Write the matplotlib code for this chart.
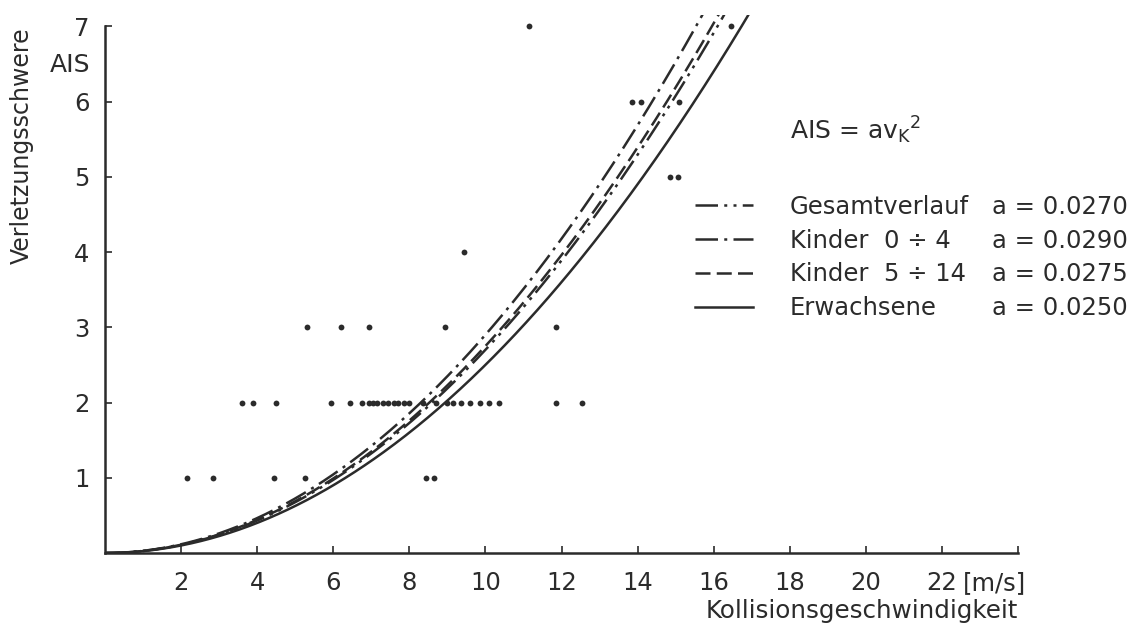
"""AIS injury severity vs. collision speed with quadratic fits."""

import numpy as np
import matplotlib

matplotlib.use("Agg")
import matplotlib.pyplot as plt
from matplotlib.lines import Line2D
from matplotlib.transforms import offset_copy

INK = "#2b2b2b"

# observed cases: collision speed [m/s] per AIS level
ais_levels = [1, 2, 3, 4, 5, 6, 7]
speeds_by_level = [
    [2.15, 2.85, 4.45, 5.25, 8.45, 8.65],
    [3.6, 3.9, 4.5, 5.95, 6.45, 6.75, 6.95, 7.05, 7.15, 7.3, 7.45, 7.6,
     7.7, 7.85, 8.0, 8.35, 8.7, 9.0, 9.15, 9.35, 9.6, 9.85, 10.1, 10.35,
     11.85, 12.55],
    [5.3, 6.2, 6.95, 8.95, 11.85],
    [9.45],
    [14.85, 15.05],
    [13.85, 14.1, 15.1],
    [11.15, 16.45],
]

# fitted curves AIS = a * v_K^2
fit_names = ["Gesamtverlauf", "Kinder  0 \u00f7 4", "Kinder  5 \u00f7 14", "Erwachsene"]
fit_a = [0.0270, 0.0290, 0.0275, 0.0250]
fit_styles = [
    (0, (9, 2.5, 1.2, 2.5, 1.2, 2.5)),
    (0, (9, 2.5, 1.2, 2.5)),
    (0, (6, 2.5)),
    "-",
]

x_ticks = list(range(2, 25, 2))
x_labels = [str(t) for t in range(2, 23, 2)] + [""]
y_ticks = [1, 2, 3, 4, 5, 6, 7]

plt.rcParams["font.family"] = "DejaVu Sans"

fig = plt.figure(figsize=(11.38, 6.28), dpi=100)
ax = fig.add_axes([105 / 1138, 1 - 553 / 628, 913 / 1138, 538 / 628])

v = np.linspace(0, 18, 500)
lines = []
for name, a, ls in zip(fit_names, fit_a, fit_styles):
    (ln,) = ax.plot(v, a * v**2, color=INK, lw=1.8, linestyle=ls, label=name)
    lines.append(ln)

for level, speeds in zip(ais_levels, speeds_by_level):
    ax.plot(speeds, [level] * len(speeds), "o", color=INK, ms=4.2, mew=0)

ax.set_xlim(0, 24)
ax.set_ylim(0, 7.15)
ax.spines["top"].set_visible(False)
ax.spines["right"].set_visible(False)
ax.spines["left"].set_bounds(0, 7)
for sp in ("left", "bottom"):
    ax.spines[sp].set_linewidth(1.8)
    ax.spines[sp].set_color(INK)

ax.set_xticks(x_ticks)
ax.set_xticklabels(x_labels)
ax.set_yticks(y_ticks)
ax.tick_params(direction="in", length=5, width=1.2, color=INK,
               labelsize=17.5, labelcolor=INK)
ax.tick_params(axis="x", pad=13)
ax.tick_params(axis="y", pad=11)

unit_tf = offset_copy(ax.get_xaxis_transform(), fig=fig, y=-13, units="points")
ax.text(22.55, 0, "[m/s]", transform=unit_tf, ha="left", va="top",
        fontsize=17.5, color=INK)
ax.set_xlabel("Kollisionsgeschwindigkeit", loc="right", fontsize=17.7,
              color=INK, labelpad=3)

fig.text(22 / 1138, 1 - 146 / 628, "Verletzungsschwere", rotation=90,
         ha="center", va="center", fontsize=17, color=INK)
fig.text(70 / 1138, 1 - 65 / 628, "AIS", ha="center", va="center",
         fontsize=18, color=INK)

fig.text(790 / 1138, 1 - 130 / 628, r"AIS = $\mathregular{av_K{}^2}$",
         ha="left", va="center", fontsize=18, color=INK)

leg = ax.legend(handles=lines, loc="upper left",
                bbox_to_anchor=(695 / 1138, 1 - 195 / 628),
                bbox_transform=fig.transFigure, frameon=False, fontsize=17.5,
                handlelength=2.4, handletextpad=1.5, labelspacing=0.4,
                borderpad=0, borderaxespad=0)
for t in leg.get_texts():
    t.set_color(INK)
ax.add_artist(leg)

blank = [Line2D([], [], linestyle="none") for _ in fit_a]
leg2 = ax.legend(handles=blank, labels=[f"a = {a:.4f}" for a in fit_a],
                 loc="upper left", bbox_to_anchor=(992 / 1138, 1 - 195 / 628),
                 bbox_transform=fig.transFigure, frameon=False, fontsize=17.5,
                 handlelength=0, handletextpad=0, labelspacing=0.4,
                 borderpad=0, borderaxespad=0)
for t in leg2.get_texts():
    t.set_color(INK)

fig.savefig("out.png", dpi=100)
